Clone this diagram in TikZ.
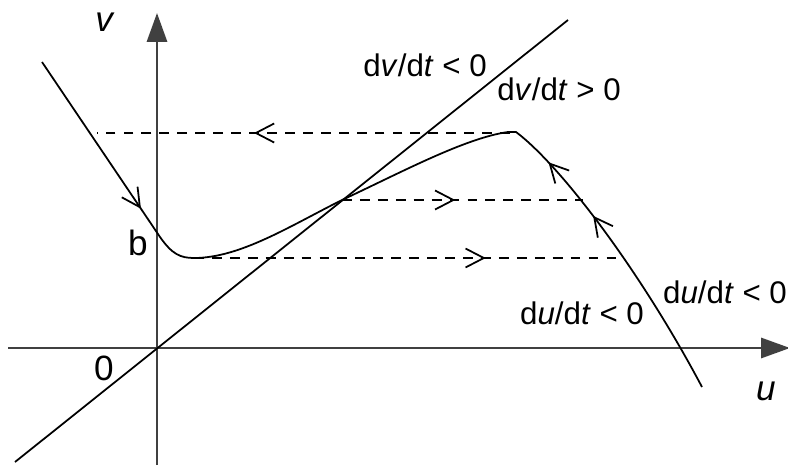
\documentclass[tikz,border=0pt]{standalone}
\usepackage{fontspec}
\setmainfont{Liberation Sans}
\usetikzlibrary{arrows.meta,decorations.markings}

\begin{document}
\begin{tikzpicture}[
  x=0.01cm,
  y=-0.01cm,
  font=\fontsize{8.9}{10}\selectfont,
  axis/.style={draw=black!75, line width=0.75pt, -{Triangle[length=8.2pt,width=5.7pt]}},
  curve/.style={line width=0.5pt},
  guide/.style={line width=0.45pt, dash pattern=on 2.8pt off 2.3pt},
  flow/.style={postaction=decorate, decoration={markings,
      mark=at position #1 with {\arrow{Straight Barb[length=5.2pt,width=5.4pt,line width=0.5pt]}}}},
  axlabel/.style={font=\fontsize{10}{12}\selectfont}
]
\useasboundingbox (0,0) rectangle (788,467);

\coordinate (O) at (157,348);
\coordinate (trough) at (194,258);
\coordinate (cross) at (342,200);
\coordinate (peak) at (516,132);

% axes
\draw[axis] (8,348) -- (790,348);
\draw[axis] (157,465) -- (157,13);

% nullclines
\draw[curve] (15,462) -- (568,20);
\draw[curve] (42,62) -- (160,237) .. controls (172,254) and (180,258) .. (trough)
  .. controls (240,258) and (290,226) .. (cross)
  .. controls (400,173) and (465,138) .. (508,132) -- (peak)
  .. controls (560,165) and (640,270) .. (702,387);

% direction of travel
\path[flow=0.84] (42,62) -- (160,237);
\path[flow=0.64] (702,387) .. controls (640,270) and (560,165) .. (peak);
\path[flow=0.86] (702,387) .. controls (640,270) and (560,165) .. (peak);
\draw[guide, flow=0.62] (510,133) -- (97,133);
\draw[guide, flow=0.47] (cross) -- (583,200);
\draw[guide, flow=0.68] (trough) -- (623,258);

% labels
\node[axlabel] (vlab) at (105,22) {\textit{v}};
\node[axlabel] (ulab) at (766,391) {\textit{u}};
\node[axlabel] (blab) at (138,243) {b};
\node[axlabel] (zero) at (104,368) {0};
\node (dvneg) at (425,65) {d\textit{v}/d\textit{t} < 0};
\node (dvpos) at (559,89) {d\textit{v}/d\textit{t} > 0};
\node (duright) at (725,292) {d\textit{u}/d\textit{t} < 0};
\node (duleft) at (582,313) {d\textit{u}/d\textit{t} < 0};
\end{tikzpicture}
\end{document}
